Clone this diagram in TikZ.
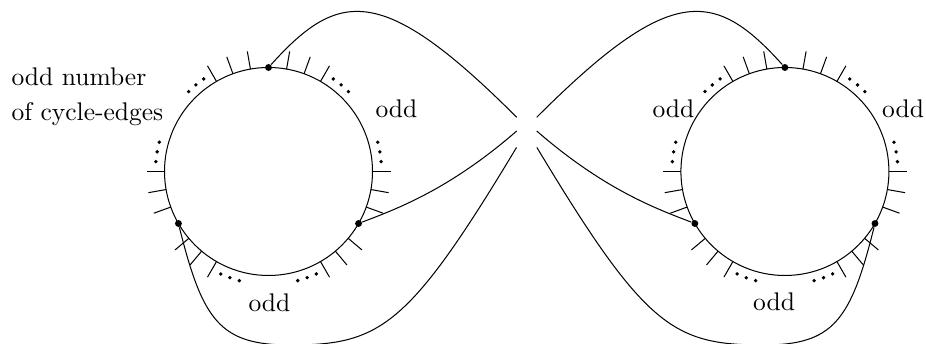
\documentclass[tikz,border=0pt]{standalone}
\usetikzlibrary{calc}
\newcommand\halfpic[1]{%
  \begin{scope}[shift={(268.5,172.5)}]
    \draw (0,0) circle[radius=104];
    \foreach \a in {90,-30,-150}{%
      \foreach \o in {-30,-20,-10,10,20,30}{\draw ({\a+\o}:104) -- ({\a+\o}:122);}
      \foreach \o in {-45,-40,-35,35,40,45}{\fill ({\a+\o}:113) circle[radius=1.9];}
    }
    \node[junction] (#1t) at (90:104) {};
    \node[junction] (#1r) at (-30:104) {};
    \node[junction] (#1l) at (-150:104) {};
  \end{scope}
  \coordinate (#1e1) at (516.7,226.7);
  \coordinate (#1e2) at (516.7,213);
  \coordinate (#1e3) at (516.5,196.5);
  \coordinate (#1b) at (290,-1);
  \draw (#1t) .. controls +(48:105) and +(135:190) .. (#1e1);
  \draw (#1r) .. controls +(21:40) and +(221:90) .. (#1e2);
  \draw (#1l) .. controls +(-76:100) and +(180:70) .. (#1b)
        .. controls +(0:90) and +(239:210) .. (#1e3);
}
\begin{document}
\begin{tikzpicture}[x=0.392pt,y=0.392pt,line width=0.4pt,
  junction/.style={circle,fill,inner sep=0pt,minimum size=2.7pt},
  lbl/.style={anchor=base west,inner sep=0pt,font=\fontsize{10}{12}\selectfont}]
\useasboundingbox (0,0) rectangle (926,344);
\halfpic{L}
\begin{scope}[shift={(1053.4,0)},xscale=-1]
\halfpic{R}
\end{scope}
\node[lbl] (t1) at (11,258) {odd number};
\node[lbl] (t2) at (11,223) {of cycle-edges};
\node[lbl] (t3) at (375,226) {odd};
\node[lbl] (t4) at (248,32) {odd};
\node[lbl] (t5) at (652,226.7) {odd};
\node[lbl] (t6) at (881.7,226.7) {odd};
\node[lbl] (t7) at (752.7,33.3) {odd};
\end{tikzpicture}
\end{document}
